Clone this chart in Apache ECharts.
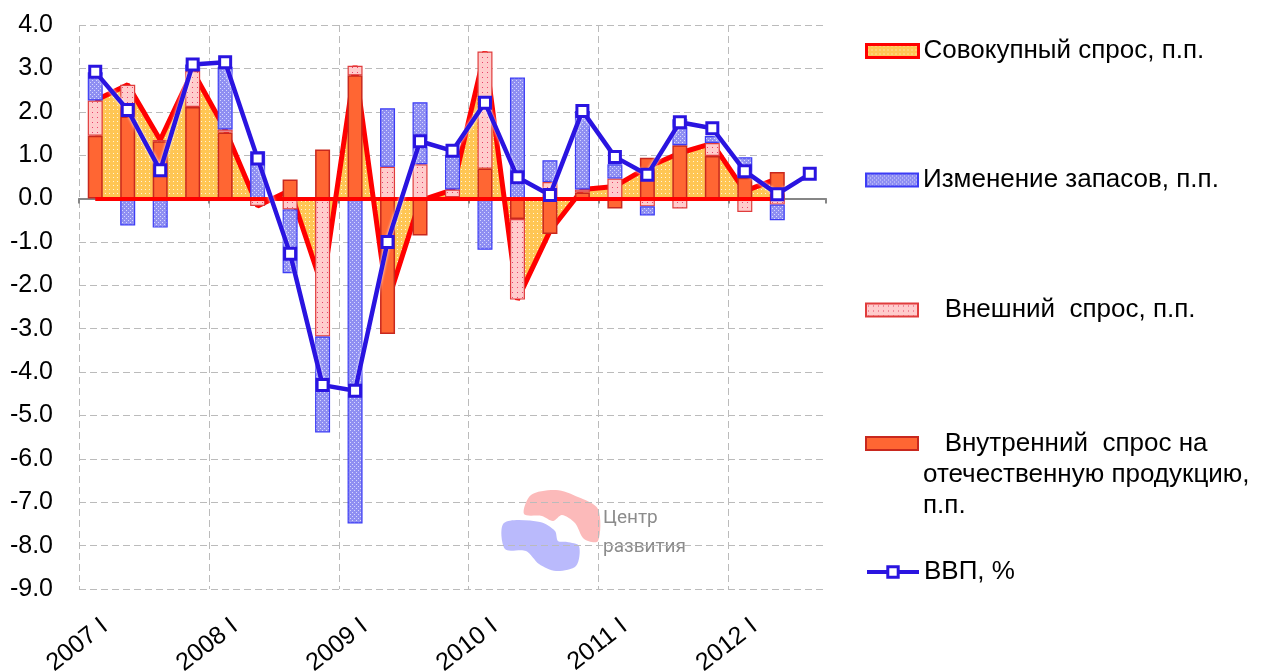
<!DOCTYPE html>
<html>
<head>
<meta charset="utf-8">
<script src="https://cdn.jsdelivr.net/npm/echarts@6/dist/echarts.min.js"></script>
<style>
    html, body {margin: 0; padding: 0; background: #fff;}
    #chart {width: 1266px; height: 672px;}
</style>
</head>
<body>
<div id="chart"></div>
<script>
// кварталы
const quarters = [
    '2007 I', '2007 II', '2007 III', '2007 IV',
    '2008 I', '2008 II', '2008 III', '2008 IV',
    '2009 I', '2009 II', '2009 III', '2009 IV',
    '2010 I', '2010 II', '2010 III', '2010 IV',
    '2011 I', '2011 II', '2011 III', '2011 IV',
    '2012 I', '2012 II', '2012 III'
];
const aggregateDemand = [2.26, 2.62, 1.35, 2.94, 1.59, -0.17, 0.19, -2.05, 3.06, -2.39, -0.05, 0.2, 3.39, -2.33, -0.75, 0.21, 0.28, 0.72, 1.05, 1.27, 0.17, 0.46];
const domesticDemand = [1.45, 1.89, 1.32, 2.11, 1.52, 0, 0.44, 1.13, 2.84, -3.12, -0.85, 0.03, 0.69, -0.47, -0.82, 0.14, -0.23, 0.94, 1.23, 0.98, 0.48, 0.61];
const externalDemand = [0.81, 0.73, 0.03, 0.83, 0.07, -0.17, -0.25, -3.18, 0.22, 0.73, 0.79, 0.18, 2.7, -1.86, 0.38, 0.07, 0.46, -0.18, -0.23, 0.3, -0.31, -0.14];
const inventories = [0.65, -0.62, -0.67, 0.15, 1.45, 1.09, -1.47, -2.21, -7.49, 1.35, 1.43, 0.8, -1.18, 2.79, 0.5, 1.81, 0.33, -0.21, 0.6, 0.16, 0.47, -0.36];
const gdp = [2.92, 2.04, 0.65, 3.09, 3.14, 0.92, -1.27, -4.3, -4.43, -1.0, 1.32, 1.1, 2.21, 0.49, 0.08, 2.02, 0.96, 0.55, 1.76, 1.62, 0.63, 0.1, 0.57];

const FONT = '"Liberation Sans", Arial, sans-serif';

// штриховки как в Excel
function pattern(bg, dot, step, dots) {
    const c = document.createElement('canvas');
    c.width = step;
    c.height = step;
    const ctx = c.getContext('2d');
    ctx.fillStyle = bg;
    ctx.fillRect(0, 0, step, step);
    ctx.fillStyle = dot;
    dots.forEach(d => ctx.fillRect(d[0], d[1], 1, 1));
    return {image: c, repeat: 'repeat'};
}

const orangeFill = pattern('#FFC654', '#FFF4DC', 4, [[1, 1]]);
const blueFill = pattern('#8F8FF2', '#D8D8FF', 4, [[0, 0], [2, 2]]);
const pinkFill = pattern('#FFCCCC', '#E8406A', 5, [[2, 2]]);

const GDP_BLUE = '#2A14E0';
const GRID_GRAY = '#BBBBBB';
// последняя вертикальная линия (правый край) в оригинале не рисуется
const yearLineColors = [GRID_GRAY, GRID_GRAY, GRID_GRAY, GRID_GRAY, GRID_GRAY, GRID_GRAY, 'rgba(0,0,0,0)'];

let chart = echarts.init(document.getElementById('chart'));

const legendBase = {
    left: 860,
    orient: 'vertical',
    itemWidth: 52,
    itemHeight: 13,
    itemGap: 0,
    selectedMode: false,
    textStyle: {color: '#000', fontSize: 26, fontFamily: FONT}
};

chart.setOption({
    animation: false,
    backgroundColor: '#fff',
    grid: {left: 79, right: 440, top: 25, bottom: 83, outerBoundsMode: 'none', containLabel: false},
    legend: [
        Object.assign({}, legendBase, {
            top: 33,
            data: [{
                name: 'Совокупный спрос, п.п.',
                icon: 'rect',
                itemStyle: {color: orangeFill, borderColor: '#FF0000', borderWidth: 3}
            }]
        }),
        Object.assign({}, legendBase, {
            top: 162,
            data: [{name: 'Изменение запасов, п.п.', icon: 'rect'}]
        }),
        Object.assign({}, legendBase, {
            top: 292,
            data: [{name: 'Внешний спрос, п.п.', icon: 'rect'}],
            formatter: () => '   Внешний  спрос, п.п.'
        }),
        Object.assign({}, legendBase, {
            top: 361,
            data: [{name: 'Внутренний спрос на отечественную продукцию, п.п.', icon: 'rect'}],
            // две пустые строки сверху, чтобы первая строка встала напротив значка
            formatter: () => ' \n \n   Внутренний  спрос на\nотечественную продукцию,\nп.п.',
            textStyle: {color: '#000', fontSize: 26, fontFamily: FONT, lineHeight: 31}
        }),
        Object.assign({}, legendBase, {
            top: 554,
            data: [{
                name: 'ВВП, %',
                lineStyle: {color: GDP_BLUE, width: 4},
                itemStyle: {color: '#FFFFFF', borderColor: GDP_BLUE, borderWidth: 3}
            }]
        })
    ],
    xAxis: [
        {
            type: 'category',
            data: quarters,
            position: 'bottom',
            axisLine: {show: false, onZero: false},
            axisTick: {show: false},
            axisLabel: {
                interval: 3,
                rotate: 38,
                margin: 42,
                padding: [0, -12, 0, 0],
                color: '#000',
                fontSize: 25,
                fontFamily: FONT
            },
            splitLine: {
                show: true,
                interval: 3,
                lineStyle: {color: yearLineColors, type: [7, 4], width: 1}
            }
        },
        {
            type: 'category',
            data: quarters,
            position: 'bottom',
            z: 3,
            axisLine: {show: true, onZero: true, lineStyle: {color: '#868686', width: 2}},
            axisTick: {show: true, interval: 3, length: 5, lineStyle: {color: '#868686', width: 2}},
            axisLabel: {show: false},
            splitLine: {show: false}
        }
    ],
    yAxis: {
        type: 'value',
        min: -9,
        max: 4,
        interval: 1,
        axisLine: {show: false},
        axisTick: {show: false},
        axisLabel: {
            margin: 26,
            color: '#000',
            fontSize: 25,
            fontFamily: FONT,
            formatter: v => v.toFixed(1)
        },
        splitLine: {lineStyle: {color: GRID_GRAY, type: [7, 4], width: 1}}
    },
    graphic: [
        {
            type: 'polygon',
            z: -1,
            shape: {
                smooth: 0.3,
                points: [[524, 514], [531, 495], [556, 490], [578, 497], [598, 509], [598, 541],
                    [584, 539], [575, 523], [562, 515], [553, 521], [542, 516]]
            },
            style: {fill: 'rgba(250, 140, 140, 0.6)'}
        },
        {
            type: 'polygon',
            z: -1,
            shape: {
                smooth: 0.3,
                points: [[504, 523], [540, 522], [555, 531], [558, 541], [567, 542], [579, 546],
                    [576, 566], [556, 571], [539, 564], [526, 551], [505, 549]]
            },
            style: {fill: 'rgba(140, 140, 250, 0.6)'}
        },
        {
            type: 'text',
            z: -1,
            left: 603,
            top: 509,
            style: {text: 'Центр', fontSize: 19, fill: '#8C8C8C', fontFamily: 'Roboto'}
        },
        {
            type: 'text',
            z: -1,
            left: 603,
            top: 538,
            style: {text: 'развития', fontSize: 19, fill: '#8C8C8C', fontFamily: 'Roboto'}
        }
    ],
    series: [
        {
            name: 'Совокупный спрос, п.п.',
            type: 'line',
            z: 1,
            data: aggregateDemand,
            symbol: 'none',
            color: '#FF0000',
            lineStyle: {color: '#FF0000', width: 5},
            areaStyle: {color: orangeFill, opacity: 1},
            markLine: {
                silent: true,
                symbol: 'none',
                label: {show: false},
                lineStyle: {color: '#FF0000', width: 4, type: 'solid'},
                data: [[{coord: [0, 0]}, {coord: [aggregateDemand.length - 1, 0]}]]
            }
        },
        {
            name: 'Внутренний спрос на отечественную продукцию, п.п.',
            type: 'bar',
            stack: 'gdp',
            z: 4,
            barWidth: 15,
            data: domesticDemand,
            itemStyle: {color: '#FF6633', borderColor: '#C8281E', borderWidth: 1.5}
        },
        {
            name: 'Внешний спрос, п.п.',
            type: 'bar',
            stack: 'gdp',
            z: 4,
            barWidth: 15,
            data: externalDemand,
            itemStyle: {color: pinkFill, borderColor: '#E03C3C', borderWidth: 1.2}
        },
        {
            name: 'Изменение запасов, п.п.',
            type: 'bar',
            stack: 'gdp',
            z: 4,
            barWidth: 15,
            data: inventories,
            itemStyle: {color: blueFill, borderColor: '#3C3CF5', borderWidth: 1.2}
        },
        {
            name: 'ВВП, %',
            type: 'line',
            z: 6,
            data: gdp,
            color: GDP_BLUE,
            symbol: 'rect',
            symbolSize: 11,
            lineStyle: {color: GDP_BLUE, width: 4.5, shadowColor: '#FFFFFF', shadowBlur: 3},
            itemStyle: {color: '#FFFFFF', borderColor: GDP_BLUE, borderWidth: 3}
        }
    ]
});
</script>
</body>
</html>
